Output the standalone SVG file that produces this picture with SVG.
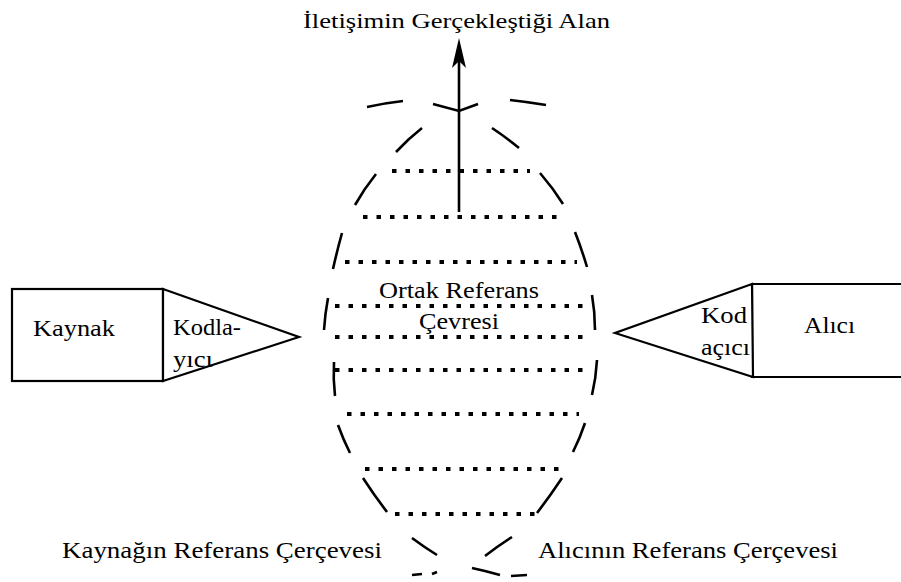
<svg xmlns="http://www.w3.org/2000/svg" width="901" height="582" viewBox="0 0 901 582" font-family="Liberation Serif" font-size="23">
<style>
.box{fill:#fff;stroke:#000;stroke-width:2.2}
.dash{fill:none;stroke:#000;stroke-width:2.6;stroke-linecap:butt}
.dot{fill:none;stroke:#000;stroke-width:4.2;stroke-dasharray:4.5 9}
</style>
<rect width="901" height="582" fill="#fff"/>
<g id="title"><text x="303" y="28" font-family="Liberation Serif" font-size="21" textLength="307" lengthAdjust="spacingAndGlyphs">İletişimin Gerçekleştiği Alan</text></g>
<g id="kaynak">
<rect class="box" x="12" y="289" width="151" height="92"/>
<text x="33" y="336" font-family="Liberation Serif" textLength="82" lengthAdjust="spacingAndGlyphs">Kaynak</text>
</g>
<g id="kodlayici">
<path class="box" d="M163,289 L299,337 L163,381 Z"/>
<text x="173" y="335" font-family="Liberation Serif" textLength="68" lengthAdjust="spacingAndGlyphs">Kodla-</text>
<text x="173" y="367" font-family="Liberation Serif" textLength="40" lengthAdjust="spacingAndGlyphs">yıcı</text>
</g>
<g id="alici">
<path class="box" d="M910,284 L752,284 L752,377 L910,377"/>
<text x="804" y="333" font-family="Liberation Serif" textLength="51" lengthAdjust="spacingAndGlyphs">Alıcı</text>
</g>
<g id="kodacici">
<path class="box" d="M752,284 L615,333 L753,377 Z"/>
<text x="701" y="323" font-family="Liberation Serif" textLength="46" lengthAdjust="spacingAndGlyphs">Kod</text>
<text x="701" y="355" font-family="Liberation Serif" textLength="49" lengthAdjust="spacingAndGlyphs">açıcı</text>
</g>
<g id="ortak-referans">
<g class="dot">
<line x1="392" y1="171" x2="530" y2="171"/>
<line x1="363" y1="217" x2="564" y2="217"/>
<line x1="345" y1="262" x2="577" y2="262"/>
<line x1="335" y1="306" x2="589" y2="306"/>
<line x1="335" y1="337" x2="589" y2="337"/>
<line x1="335" y1="370" x2="589" y2="370"/>
<line x1="347" y1="414" x2="579" y2="414"/>
<line x1="365" y1="469" x2="565" y2="469"/>
<line x1="395" y1="514" x2="535" y2="514"/>
</g>
<text x="379" y="298" font-family="Liberation Serif" textLength="160" lengthAdjust="spacingAndGlyphs">Ortak Referans</text>
<text x="419" y="329" font-family="Liberation Serif" textLength="80" lengthAdjust="spacingAndGlyphs">Çevresi</text>
</g>
<g id="cerceve">
<g class="dash">
<path d="M367,107 Q385,103 403,101"/>
<path d="M433,104 L459,111 L478,104"/>
<path d="M510,100 Q528,102 546,105"/>
<path d="M396,152 Q408,139 422,128"/>
<path d="M492,128 Q507,138 519,148"/>
<path d="M355,205 Q364,189 376,174"/>
<path d="M540,173 Q553,188 563,204"/>
<path d="M342,233 Q337,251 333,269"/>
<path d="M575,232 Q582,250 587,267"/>
<path d="M328,298 Q325,314 324,330"/>
<path d="M592,295 Q595,312 595,330"/>
<path d="M334,362 Q333,379 335,396"/>
<path d="M597,360 Q596,378 592,395"/>
<path d="M338,425 Q343,439 350,453"/>
<path d="M585,423 Q580,438 573,452"/>
<path d="M363,478 Q374,495 387,512"/>
<path d="M562,478 Q550,496 537,513"/>
<path d="M412,538 Q424,547 437,555"/>
<path d="M485,556 Q498,546 512,537"/>
<path d="M412,575 L422,574"/>
<path d="M432,574 L437,572"/>
<path d="M472,568 Q486,571 500,575"/>
<path d="M511,576 L527,575"/>
</g>
</g>
<g id="labels">
<text x="62" y="558" font-family="Liberation Serif" textLength="320" lengthAdjust="spacingAndGlyphs">Kaynağın Referans Çerçevesi</text>
<text x="538" y="558" font-family="Liberation Serif" textLength="300" lengthAdjust="spacingAndGlyphs">Alıcının Referans Çerçevesi</text>
</g>
<g id="connectors">
<line x1="459" y1="212" x2="459" y2="60" stroke="#000" stroke-width="2.6"/>
<path d="M459,38 L452,68 L459,61 L466,68 Z" fill="#000"/>
</g>
</svg>
